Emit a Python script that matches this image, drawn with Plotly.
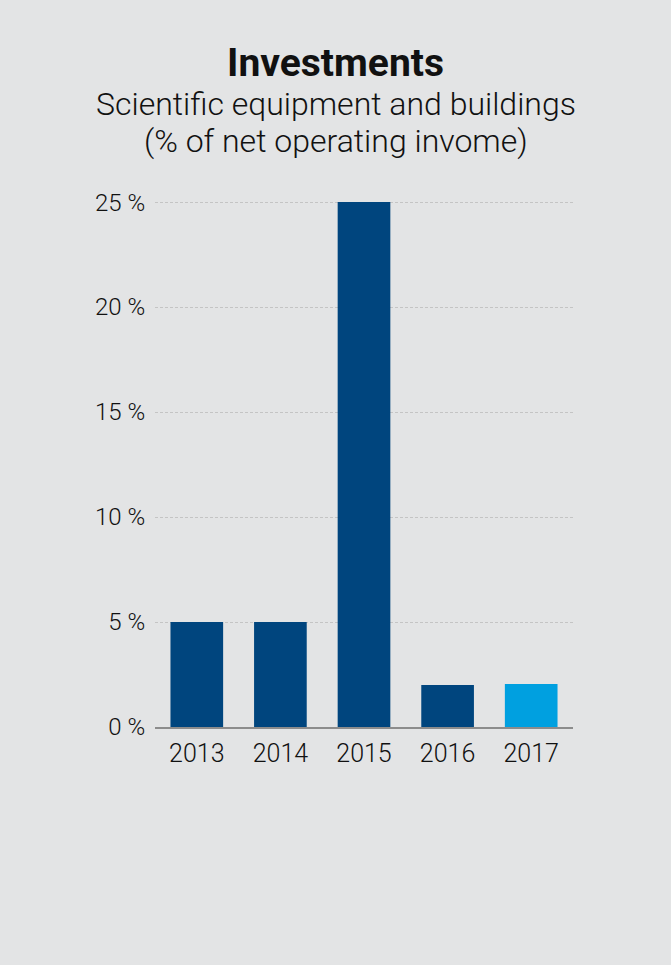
import plotly.graph_objects as go

years = ["2013", "2014", "2015", "2016", "2017"]
values = [5.0, 5.0, 25.0, 2.0, 2.05]
bar_colors = ["#00457e", "#00457e", "#00457e", "#00457e", "#00a0e0"]
y_ticks = [0, 5, 10, 15, 20, 25]
y_tick_labels = ["0 %", "5 %", "10 %", "15 %", "20 %", "25 %"]

title = "Investments"
subtitle_lines = ["Scientific equipment and buildings", "(% of net operating invome)"]

BG = "#e3e4e5"
FONT = "Roboto"
W, H = 671, 965
ML, MR, MT, MB = 155, 98, 200, 238

fig = go.Figure(go.Bar(x=years, y=values, marker=dict(color=bar_colors, line=dict(width=0)),
                       width=0.63, hoverinfo="skip"))

fig.update_layout(
    width=W, height=H,
    paper_bgcolor=BG, plot_bgcolor=BG,
    margin=dict(l=ML, r=MR, t=MT, b=MB),
    showlegend=False,
    font=dict(family=FONT, color="#111111"),
)
fig.update_xaxes(
    type="category", showgrid=False, showline=True, linecolor="#8c8c8c", linewidth=1.5,
    ticks="outside", ticklen=3, tickcolor="rgba(0,0,0,0)",
    tickfont=dict(size=25, family=FONT, color="#111111", weight=300),
)
fig.update_yaxes(
    range=[0, 25.1], tickvals=y_ticks, ticktext=y_tick_labels,
    showgrid=True, gridcolor="#c4c4c4", griddash="3px,2px", gridwidth=1,
    zeroline=False, showline=False,
    ticks="outside", ticklen=4, tickcolor="rgba(0,0,0,0)",
    tickfont=dict(size=24, family=FONT, color="#111111", weight=300),
)

plot_h = H - MT - MB
plot_w = W - ML - MR
def ypix(p):
    return (H - MB - p) / plot_h
cx = (W / 2 - ML) / plot_w

fig.add_annotation(text="<b>" + title + "</b>", x=cx, y=ypix(63), xref="paper", yref="paper",
                   xanchor="center", yanchor="middle", showarrow=False,
                   font=dict(size=39, family=FONT, color="#111111"))
for i, line in enumerate(subtitle_lines):
    fig.add_annotation(text=line, x=cx, y=ypix(104 + 37 * i), xref="paper", yref="paper",
                       xanchor="center", yanchor="middle", showarrow=False,
                       font=dict(size=32, family=FONT, color="#111111", weight=300))

fig.write_html("out.html", config={"displayModeBar": False, "staticPlot": True},
               post_script="document.body.style.margin='0px';")
